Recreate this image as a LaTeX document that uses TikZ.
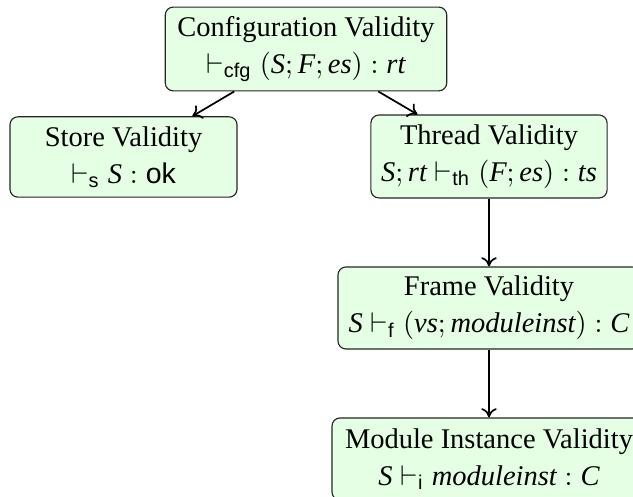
\documentclass[tikz,border=0pt]{standalone}
\usepackage{amsmath}
\usepackage{fontspec}
\setmainfont{Liberation Serif}
\setsansfont{Liberation Sans}
\usetikzlibrary{arrows.meta}
\newcommand\vi[1]{\mathit{#1}}
\begin{document}
\begin{tikzpicture}[x=0.351pt,y=-0.351pt,
  box/.style={draw=black!85, line width=0.4pt, rounded corners=2.8pt, fill=green!10,
    align=center, inner sep=0pt, minimum height=28.8pt},
  arr/.style={-{To[length=3.2pt,width=5.4pt]}, line width=0.6pt}]
\useasboundingbox (0,0) rectangle (633,497);
\clip (0,0) rectangle (633,497);
\node[box, minimum width=98.8pt, minimum height=29.4pt] (cfg) at (306,49) {Configuration Validity\\[1pt] $\vdash_{\mathsf{cfg}}(\vi{S};\vi{F};\vi{es}):\vi{rt}$};
\node[box, minimum width=79.7pt, minimum height=28.2pt] (store) at (123.5,157) {Store Validity\\[1pt] $\vdash_{\mathsf{s}}\vi{S}:\mathsf{ok}$};
\node[box, minimum width=82.9pt, minimum height=29.1pt] (thread) at (489,156.5) {Thread Validity\\[1pt] $\vi{S};\vi{rt}\vdash_{\mathsf{th}}(\vi{F};\vi{es}):\vi{ts}$};
\node[box, minimum width=106pt] (frame) at (489,308) {Frame Validity\\[1pt] $\vi{S}\vdash_{\mathsf{f}}(\vi{vs};\vi{moduleinst}):\vi{C}$};
\node[box, minimum width=110.2pt] (mod) at (489,459) {Module Instance Validity\\[1pt] $\vi{S}\vdash_{\mathsf{i}}\vi{moduleinst}:\vi{C}$};
\draw[arr] (cfg) -- (store);
\draw[arr] (cfg) -- (thread);
\draw[arr] (thread) -- (frame);
\draw[arr] (frame) -- (mod);
\end{tikzpicture}
\end{document}
